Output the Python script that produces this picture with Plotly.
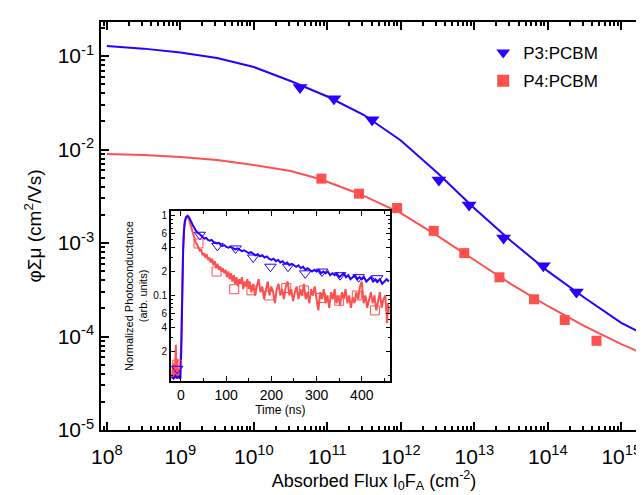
import plotly.graph_objects as go

# ---------------- main plot data ----------------
p3_flux = [4.25e10, 1.23e11, 4.07e11, 3.3e12, 8.5e12, 2.5e13, 8.7e13, 2.45e14]
p3_phimu = [0.0462, 0.0349, 0.0208, 0.00472, 0.00255, 0.00113, 5.7e-4, 3.0e-4]

p4_flux = [8.3e10, 2.7e11, 8.9e11, 2.8e12, 7.3e12, 2.2e13, 6.5e13, 1.7e14, 4.6e14]
p4_phimu = [0.00488, 0.00337, 0.00237, 0.00135, 7.8e-4, 4.3e-4, 2.5e-4, 1.5e-4, 9.0e-5]

fit_flux = [1e8, 3.16e8, 1e9, 3.16e9, 1e10, 3.16e10, 1e11, 3.16e11, 1e12, 3.16e12,
            1e13, 3.16e13, 1e14, 3.16e14, 1e15, 2.24e15]
p3_fit = [0.128, 0.120, 0.109, 0.0953, 0.0762, 0.0541, 0.0369, 0.0234, 0.0125, 0.00560,
          0.00235, 0.00105, 5.0e-4, 2.6e-4, 1.40e-4, 1.01e-4]
p4_fit_flux = [1e8, 3.16e8, 1e9, 3.16e9, 1e10, 3.16e10, 7.9e10, 2.7e11, 1e12, 3.16e12,
               1e13, 3.16e13, 1e14, 3.16e14, 1e15, 2.24e15]
p4_fit = [0.00895, 0.00873, 0.00832, 0.00773, 0.00683, 0.00589, 0.00483, 0.00337, 0.00209,
          0.00119, 6.58e-4, 3.64e-4, 2.12e-4, 1.29e-4, 8.3e-5, 6.3e-5]

x_tick_vals = [1e8, 1e9, 1e10, 1e11, 1e12, 1e13, 1e14, 1e15]
x_tick_text = ["10<sup>8</sup>", "10<sup>9</sup>", "10<sup>10</sup>", "10<sup>11</sup>",
               "10<sup>12</sup>", "10<sup>13</sup>", "10<sup>14</sup>", "10<sup>15</sup>"]
y_tick_vals = [1e-5, 1e-4, 1e-3, 1e-2, 1e-1]
y_tick_text = ["10<sup>-5</sup>", "10<sup>-4</sup>", "10<sup>-3</sup>", "10<sup>-2</sup>", "10<sup>-1</sup>"]

# ---------------- inset data ----------------
blue_t = [-20, -16, -12, -8, -4, -1, 1, 3, 5, 7, 9, 12, 15, 18, 21, 24, 27, 30, 33, 36,
          40, 44, 48, 52, 56, 60, 64, 68, 72, 76, 80, 84, 88, 92, 96, 100, 105, 110, 115, 120,
          125, 130, 135, 140, 145, 150, 155, 160, 165, 170, 175, 180, 185, 190, 195, 200,
          205, 210, 215, 220, 225, 230, 235, 240, 245, 250, 255, 260, 265, 270, 275, 280,
          285, 290, 295, 300, 305, 310, 315, 320, 325, 330, 335, 340, 345, 350, 355, 360,
          365, 370, 375, 380, 385, 390, 395, 400, 405, 410, 415, 420, 425, 430, 435, 440,
          445, 450, 455, 460]
blue_v = [0.0095, 0.009, 0.0098, 0.0092, 0.0096, 0.009, 0.02, 0.12, 0.35, 0.65, 0.85, 0.97,
          1.0, 0.96, 0.9, 0.82, 0.75, 0.70, 0.66, 0.62,
          0.60, 0.57, 0.55, 0.52, 0.53, 0.50, 0.49, 0.50, 0.47, 0.46, 0.45, 0.46, 0.43, 0.42,
          0.43, 0.41, 0.40, 0.41, 0.39, 0.38,
          0.39, 0.37, 0.36, 0.37, 0.35, 0.34, 0.35, 0.33, 0.32, 0.33, 0.31, 0.32, 0.30, 0.31,
          0.29, 0.28,
          0.29, 0.27, 0.28, 0.26, 0.27, 0.25, 0.26, 0.24, 0.25, 0.24, 0.23, 0.24, 0.22, 0.23,
          0.21, 0.22,
          0.21, 0.20, 0.21, 0.20, 0.21, 0.19, 0.20, 0.19, 0.20, 0.18, 0.19, 0.18, 0.19, 0.17,
          0.18, 0.19,
          0.17, 0.18, 0.16, 0.17, 0.18, 0.16, 0.17, 0.16, 0.17, 0.15, 0.16, 0.17, 0.15, 0.16,
          0.15, 0.16,
          0.14, 0.15, 0.16, 0.15]

red_t = [-20, -17, -15, -13, -11, -10, -8, -6, -4, -2, 1, 3, 5, 7, 9, 12, 15, 18, 21, 24,
         27, 30, 33, 36, 39, 42, 45, 48, 51, 54, 57, 60, 63, 66, 69, 72, 75, 78, 81, 84,
         87, 90, 93, 96, 99, 102, 105, 108, 111, 114, 117, 120, 123, 126, 129, 132, 135, 138,
         141, 144, 147, 150,
         152, 156, 160, 164, 168, 172, 176, 180, 184, 188, 192, 196, 200, 204, 208, 212,
         216, 220, 224, 228, 232, 236, 240, 244, 248, 252, 256, 260, 264, 268, 272, 276,
         280, 284, 288, 292, 296, 300, 304, 308, 312, 316, 320, 324, 328, 332, 336, 340,
         344, 348, 352, 356, 360, 364, 368, 372, 376, 380, 384, 388, 392, 396, 400, 404,
         408, 412, 416, 420, 424, 428, 432, 436, 440, 444, 448, 452, 456, 458, 460]
red_v = [0.009, 0.014, 0.009, 0.011, 0.024, 0.009, 0.016, 0.009, 0.012, 0.009, 0.03, 0.15,
         0.4, 0.7, 0.88, 0.98, 1.0, 0.9, 0.78, 0.66,
         0.58, 0.50, 0.46, 0.44, 0.40, 0.36, 0.38, 0.32, 0.34, 0.30, 0.33, 0.28, 0.30, 0.26,
         0.29, 0.24, 0.27, 0.22, 0.25, 0.21,
         0.23, 0.20, 0.22, 0.19, 0.21, 0.17, 0.20, 0.16, 0.19, 0.15, 0.18, 0.14, 0.17, 0.13,
         0.16, 0.14, 0.17, 0.12,
         0.15, 0.13, 0.16, 0.12,
         0.15, 0.11, 0.14, 0.10, 0.13, 0.16, 0.11, 0.13, 0.09, 0.12, 0.15, 0.10, 0.13, 0.11,
         0.08, 0.12,
         0.14, 0.10, 0.12, 0.09, 0.13, 0.15, 0.10, 0.12, 0.085, 0.11, 0.13, 0.09, 0.12, 0.10,
         0.14, 0.09,
         0.11, 0.08, 0.12, 0.10, 0.13, 0.09, 0.065, 0.11, 0.09, 0.12, 0.08, 0.10, 0.07, 0.11,
         0.09, 0.12,
         0.08, 0.10, 0.075, 0.11, 0.09, 0.12, 0.08, 0.10, 0.07, 0.095, 0.08, 0.11, 0.09, 0.13,
         0.15, 0.08,
         0.10, 0.07, 0.09, 0.11, 0.08, 0.10, 0.065, 0.09, 0.11, 0.07, 0.09, 0.10, 0.045, 0.08,
         0.06]

tri_t = [-8, 42, 81, 121, 160, 198, 237, 275, 312, 352, 393, 434]
tri_v = [0.012, 0.58, 0.42, 0.39, 0.30, 0.23, 0.23, 0.19, 0.20, 0.18, 0.17, 0.165]
sq_t = [-8, 39, 79, 118, 156, 195, 233, 272, 310, 350, 389, 429]
sq_v = [0.0135, 0.45, 0.20, 0.12, 0.116, 0.10, 0.124, 0.116, 0.093, 0.086, 0.10, 0.065]

inset_y_vals = [1, 0.6, 0.4, 0.2, 0.1, 0.06, 0.04, 0.02]
inset_y_text = ["1", "6", "4", "2", "0.1", "6", "4", "2"]

BLUE = "rgb(40,0,255)"
RED = "rgb(255,80,80)"
FONT = "Liberation Sans"

fig = go.Figure()

fig.add_trace(go.Scatter(x=fit_flux, y=p3_fit, mode="lines", line=dict(color=BLUE, width=2),
                         showlegend=False))
fig.add_trace(go.Scatter(x=p4_fit_flux, y=p4_fit, mode="lines", line=dict(color=RED, width=2),
                         showlegend=False))
fig.add_trace(go.Scatter(x=p3_flux, y=p3_phimu, mode="markers", name="P3:PCBM",
                         legendgroup="a",
                         marker=dict(symbol="triangle-down", size=13, color=BLUE)))
fig.add_trace(go.Scatter(x=p4_flux, y=p4_phimu, mode="markers", name="P4:PCBM",
                         legendgroup="b",
                         marker=dict(symbol="square", size=10, color=RED)))

fig.add_trace(go.Scatter(x=red_t, y=red_v, mode="lines", line=dict(color=RED, width=2),
                         xaxis="x2", yaxis="y2", showlegend=False))
fig.add_trace(go.Scatter(x=blue_t, y=blue_v, mode="lines", line=dict(color=BLUE, width=2),
                         xaxis="x2", yaxis="y2", showlegend=False))
fig.add_trace(go.Scatter(x=sq_t, y=sq_v, mode="markers",
                         marker=dict(symbol="square-open", size=9, color=RED, line=dict(width=1)),
                         xaxis="x2", yaxis="y2", showlegend=False))
fig.add_trace(go.Scatter(x=tri_t, y=tri_v, mode="markers",
                         marker=dict(symbol="triangle-down-open", size=10, color=BLUE,
                                     line=dict(width=1)),
                         xaxis="x2", yaxis="y2", showlegend=False))

x_minor = [m * 10 ** k for k in range(7, 16) for m in range(2, 10)]
y_minor = [m * 10 ** k for k in range(-6, 0) for m in range(2, 10)]

axis_common = dict(showline=True, linecolor="black", linewidth=1.5, mirror="allticks",
                   ticks="inside", tickcolor="black", showgrid=False, zeroline=False,
                   automargin=False)

fig.update_layout(
    width=644, height=495,
    margin=dict(l=93, r=5, t=14, b=73),
    paper_bgcolor="white", plot_bgcolor="white",
    font=dict(family=FONT, color="black"),
    xaxis=dict(type="log", range=[7.92, 15.35], tickmode="array", tickvals=x_tick_vals,
               ticktext=x_tick_text, ticklen=8, tickwidth=1.5, tickfont=dict(size=21),
               ticklabelstandoff=7,
               minor=dict(tickmode="array", tickvals=x_minor, ticks="inside", ticklen=4,
                          tickcolor="black", showgrid=False),
               title=dict(text="Absorbed Flux I<sub>0</sub>F<sub>A</sub> (cm<sup>-2</sup>)",
                          font=dict(size=18), standoff=4),
               **axis_common),
    yaxis=dict(type="log", range=[-5, -0.636], tickmode="array", tickvals=y_tick_vals,
               ticktext=y_tick_text, ticklen=8, tickwidth=1.5, tickfont=dict(size=21),
               ticklabelstandoff=1,
               minor=dict(tickmode="array", tickvals=y_minor, ticks="inside", ticklen=4,
                          tickcolor="black", showgrid=False),
               title=dict(text="φΣμ (cm<sup>2</sup>/Vs)", font=dict(size=19), standoff=11),
               **axis_common),
    xaxis2=dict(domain=[0.128, 0.529], anchor="y2", range=[-22, 462], tickmode="array",
                tickvals=[0, 100, 200, 300, 400], ticklen=5, tickwidth=1.2,
                tickfont=dict(size=14),
                minor=dict(tickmode="array", tickvals=[-50, 50, 150, 250, 350, 450],
                           ticks="inside", ticklen=3, tickcolor="black", showgrid=False),
                title=dict(text="Time (ns)", font=dict(size=12), standoff=1),
                **axis_common),
    yaxis2=dict(domain=[0.120, 0.537], anchor="x2", type="log", range=[-2.075, 0.063],
                tickmode="array", tickvals=inset_y_vals, ticktext=inset_y_text,
                ticklen=4, tickwidth=1.2, tickfont=dict(size=10),
                minor=dict(tickmode="array",
                           tickvals=[0.9, 0.8, 0.7, 0.5, 0.3, 0.09, 0.08, 0.07, 0.05, 0.03, 0.01],
                           ticks="inside", ticklen=2, tickcolor="black", showgrid=False),
                title=dict(text="Normalized Photoconductance<br>(arb. units)",
                           font=dict(size=11), standoff=3),
                **axis_common),
    legend=dict(x=0.70, y=0.968, xanchor="left", yanchor="top", bgcolor="rgba(0,0,0,0)",
                font=dict(size=17), itemsizing="constant", tracegroupgap=3),
)

fig.write_html("out.html")
